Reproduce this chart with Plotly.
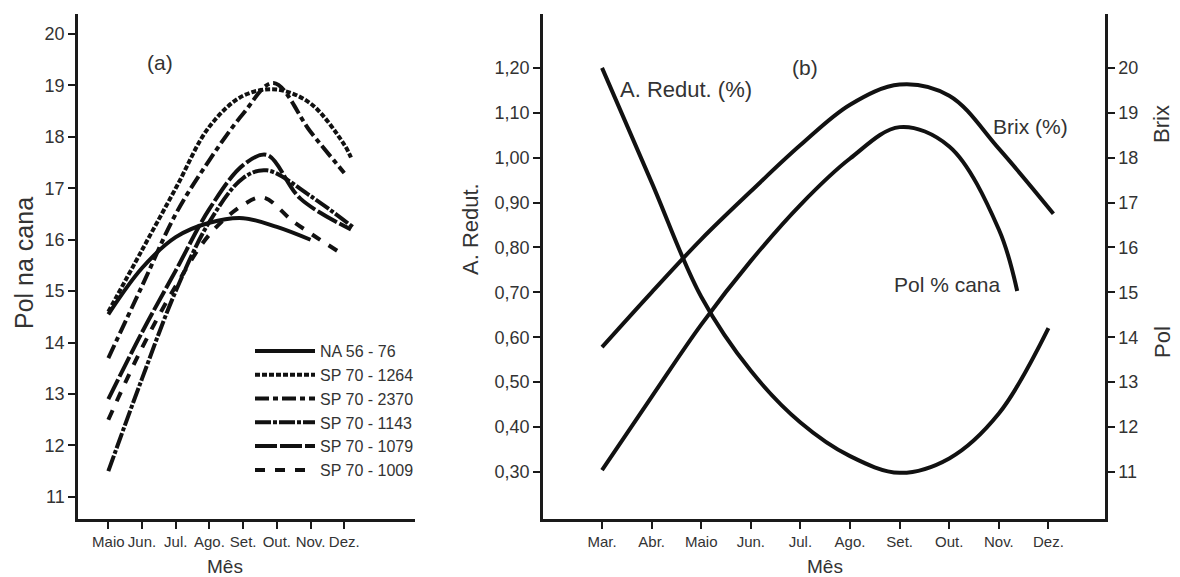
import plotly.graph_objects as go

# The page places the plot 8px from the top-left corner, so the figure is
# sized to fit the 1180x577 window and pixel positions are shifted by 8.
OFF = 8
W, H = 1180 - OFF, 577 - OFF

# ---------------- Panel (a) data ----------------
months_a = ["Maio", "Jun.", "Jul.", "Ago.", "Set.", "Out.", "Nov.", "Dez."]
month_pos_a = [0, 1, 2, 3, 4, 5, 6, 7]

na_5676_x = [0, 1, 2, 3, 4, 5, 6]
na_5676_y = [14.55, 15.45, 16.05, 16.33, 16.42, 16.25, 16.0]

sp_1264_x = [0, 1, 2, 3, 4, 5, 6, 7, 7.2]
sp_1264_y = [14.6, 15.8, 17.0, 18.2, 18.8, 18.92, 18.65, 17.85, 17.6]

sp_2370_x = [0, 1, 2, 3, 4, 4.9, 6, 7]
sp_2370_y = [13.7, 15.1, 16.5, 17.55, 18.45, 19.05, 18.1, 17.3]

sp_1143_x = [0, 1, 2, 3, 4, 4.7, 6, 7.25]
sp_1143_y = [11.5, 13.3, 15.0, 16.35, 17.2, 17.35, 16.85, 16.25]

sp_1079_x = [0, 1, 2, 3, 4, 4.7, 5.7, 7.2]
sp_1079_y = [12.9, 14.2, 15.4, 16.6, 17.45, 17.65, 16.8, 16.2]

sp_1009_x = [0, 1, 2, 3, 4, 4.6, 5.5, 6.85]
sp_1009_y = [12.5, 13.9, 15.1, 16.1, 16.68, 16.82, 16.35, 15.76]

series_a = [
    ("NA 56 - 76", na_5676_x, na_5676_y, "solid"),
    ("SP 70 - 1264", sp_1264_x, sp_1264_y, "5px,2px"),
    ("SP 70 - 2370", sp_2370_x, sp_2370_y, "14px,4px,5px,4px"),
    ("SP 70 - 1143", sp_1143_x, sp_1143_y, "16px,2px,4px,2px"),
    ("SP 70 - 1079", sp_1079_x, sp_1079_y, "22px,3px"),
    ("SP 70 - 1009", sp_1009_x, sp_1009_y, "10px,10px"),
]
ticks_a = [11, 12, 13, 14, 15, 16, 17, 18, 19, 20]

# ---------------- Panel (b) data ----------------
months_b = ["Mar.", "Abr.", "Maio", "Jun.", "Jul.", "Ago.", "Set.", "Out.", "Nov.", "Dez."]
month_pos_b = [0, 1, 2, 3, 4, 5, 6, 7, 8, 9]

redut_x = [0, 1, 2, 3, 4, 5, 6, 7, 8, 9]
redut_y = [1.20, 0.945, 0.69, 0.525, 0.41, 0.335, 0.298, 0.33, 0.43, 0.62]

brix_x = [0, 1, 2, 3, 4, 5, 6, 7, 8, 9.1]
brix_y = [13.78, 15.0, 16.18, 17.25, 18.28, 19.18, 19.63, 19.38, 18.2, 16.75]

pol_x = [0, 1, 2, 3, 4, 5, 6, 7, 8, 8.37]
pol_y = [11.04, 12.67, 14.28, 15.7, 16.95, 17.98, 18.68, 18.25, 16.4, 15.03]

ticks_redut = [0.30, 0.40, 0.50, 0.60, 0.70, 0.80, 0.90, 1.00, 1.10, 1.20]
ticks_right = [11, 12, 13, 14, 15, 16, 17, 18, 19, 20]

FONT = "Liberation Sans, Arial, sans-serif"
TXT = "#333333"
AX = "#1a1a1a"

def px(x):
    return (x - OFF) / W

def py(y):
    return 1 - (y - OFF) / H

fig = go.Figure()

for name, xs, ys, dash in series_a:
    fig.add_trace(go.Scatter(
        x=xs, y=ys, name=name, mode="lines",
        line=dict(color="#111111", width=4, dash=dash, shape="spline", smoothing=1.0),
        xaxis="x", yaxis="y", showlegend=True,
    ))

fig.add_trace(go.Scatter(x=redut_x, y=redut_y, name="A. Redut. (%)", mode="lines",
                         line=dict(color="#111111", width=4, shape="spline", smoothing=1.0),
                         xaxis="x2", yaxis="y2", showlegend=False))
fig.add_trace(go.Scatter(x=brix_x, y=brix_y, name="Brix (%)", mode="lines",
                         line=dict(color="#111111", width=4, shape="spline", smoothing=1.0),
                         xaxis="x2", yaxis="y3", showlegend=False))
fig.add_trace(go.Scatter(x=pol_x, y=pol_y, name="Pol % cana", mode="lines",
                         line=dict(color="#111111", width=4, shape="spline", smoothing=1.0),
                         xaxis="x2", yaxis="y3", showlegend=False))

y_dom = [py(519), py(14)]
common_ax = dict(showline=True, linecolor=AX, linewidth=2.5, ticks="outside",
                 tickcolor=AX, tickwidth=2, showgrid=False, zeroline=False,
                 tickfont=dict(family=FONT, size=15, color=TXT))
yfont = dict(family=FONT, size=18, color=TXT)

fig.update_layout(
    width=W, height=H,
    margin=dict(l=0, r=0, t=0, b=0),
    paper_bgcolor="white", plot_bgcolor="white",
    font=dict(family=FONT, color=TXT),
    xaxis=dict(domain=[px(78), px(415)], range=[-0.9, 9.1],
               tickmode="array", tickvals=month_pos_a, ticktext=months_a,
               ticklen=7, anchor="y", **common_ax),
    yaxis=dict(domain=y_dom, range=[10.57, 20.39],
               tickmode="array", tickvals=ticks_a, ticktext=[str(t) for t in ticks_a],
               ticklen=7, anchor="x", **{**common_ax, "tickfont": yfont}),
    xaxis2=dict(domain=[px(543), px(1105)], range=[-1.19, 10.14],
                tickmode="array", tickvals=month_pos_b, ticktext=months_b,
                ticklen=7, anchor="y2", **common_ax),
    yaxis2=dict(domain=y_dom, range=[0.195, 1.32],
                tickmode="array", tickvals=ticks_redut,
                ticktext=[f"{t:.2f}".replace(".", ",") for t in ticks_redut],
                ticklen=7, anchor="x2", **{**common_ax, "tickfont": yfont}),
    yaxis3=dict(domain=y_dom, range=[9.95, 21.2], overlaying="y2", side="right",
                tickmode="array", tickvals=ticks_right, ticktext=[str(t) for t in ticks_right],
                ticklen=7, anchor="x2", **{**common_ax, "tickfont": yfont}),
    legend=dict(x=px(250), y=py(334), xanchor="left", yanchor="top",
                bgcolor="rgba(0,0,0,0)", borderwidth=0,
                font=dict(family=FONT, size=16, color=TXT),
                itemwidth=60, tracegroupgap=0),
)

def ann(text, x, y, size, angle=0):
    fig.add_annotation(text=text, x=px(x), y=py(y), xref="paper", yref="paper",
                       showarrow=False, textangle=angle,
                       font=dict(family=FONT, size=size, color=TXT),
                       xanchor="center", yanchor="middle")

ann("(a)", 160, 63, 21)
ann("(b)", 805, 67, 21)
ann("A. Redut. (%)", 686, 90, 22)
ann("Brix (%)", 1030, 127, 21)
ann("Pol % cana", 947, 284, 21)
ann("Pol na cana", 24, 263, 25, -90)
ann("A. Redut.", 471, 229, 22, -90)
ann("Brix", 1162, 124, 22, -90)
ann("Pol", 1162, 342, 22, -90)
ann("Mês", 225, 566, 19)
ann("Mês", 825, 566, 19)

fig.write_html("out.html")
